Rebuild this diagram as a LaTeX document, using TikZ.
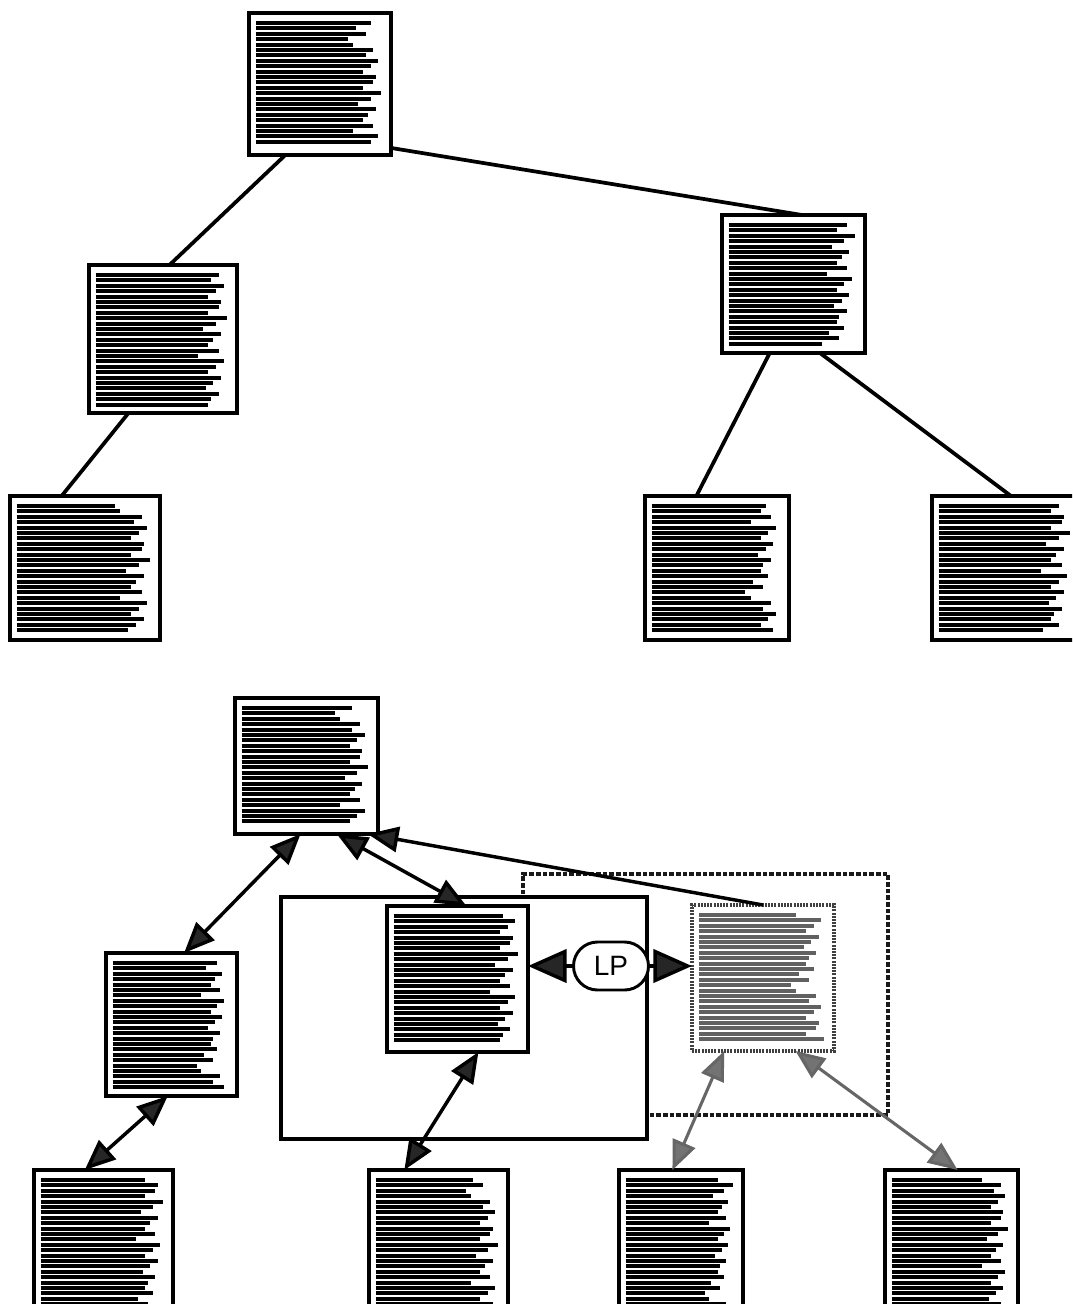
\documentclass[tikz,border=0pt]{standalone}
\usepackage{fontspec}
\newfontfamily\lpfont{Liberation Sans}
\usetikzlibrary{arrows.meta,calc,shapes.misc}

% relative lengths of the greeked text lines
\def\fracs{{.86,.92,.80,.88,.74,.78,.94,.88,.98,.92,.86,.96,.94,.86,1.0,.92,.82,.96,.90,.86,.94,.78,.98,.92,.86,.96,.90,.84,.94,.88}}

% \greeked[colour]{node}{width in px}{number of lines}{offset into the list}
\newcommand\greeked[5][black]{%
  \begin{scope}[shift={(#2.north west)}]
    \foreach \k in {1,...,#4} {
      \pgfmathsetmacro\f{\fracs[mod(\k+#5,30)]}
      \draw[#1, line width=3pt] (6.5, 4.6+5.4*\k) -- ++({(#3-17)*\f}, 0);
    }
  \end{scope}
}

\begin{document}
\begin{tikzpicture}[x=0.75pt, y=-0.75pt,
  doc/.style={rectangle, draw=black, line width=3pt, fill=white,
    inner sep=0pt, outer sep=0pt},
  greydoc/.style={rectangle, draw=black!75, line width=2.4pt,
    dash pattern=on 1.5pt off 0.9pt, fill=white, inner sep=0pt, outer sep=0pt},
  frame/.style={rectangle, draw=black, line width=2.6pt, fill=white,
    inner sep=0pt, outer sep=0pt},
  dframe/.style={rectangle, draw=black!90, line width=2.6pt,
    dash pattern=on 3.5pt off 1.5pt, inner sep=0pt, outer sep=0pt},
  edge/.style={draw=black, line width=2.8pt},
  link/.style={draw=black, line width=2.6pt,
    {Triangle[length=23pt, width=19pt, fill=black!85]}-{Triangle[length=23pt, width=19pt, fill=black!85]}},
  tolink/.style={draw=black, line width=2.6pt,
    -{Triangle[length=23pt, width=19pt, fill=black!85]}},
  lplink/.style={draw=black, line width=2.6pt,
    -{Triangle[length=29pt, width=25pt, fill=black!85]}},
  greylink/.style={draw=black!60, line width=2.3pt,
    {Triangle[length=22pt, width=18pt, fill=black!55]}-{Triangle[length=22pt, width=18pt, fill=black!55]}},
  pill/.style={rounded rectangle, draw=black, line width=2.2pt, fill=white,
    minimum width=56.25pt, minimum height=36pt, inner sep=0pt,
    font=\lpfont\fontsize{21}{25}\selectfont}
]
\useasboundingbox (0,0) rectangle (1072,1304);
\fill[white] (0,0) rectangle (1072,1304);
\clip (0,0) rectangle (1072,1304);

% ---------- upper tree ----------
\node[doc, minimum width=106.5pt,  minimum height=106.5pt] (T1) at (320,84) {};
\node[doc, minimum width=111pt,    minimum height=111pt]   (T2) at (163,339) {};
\node[doc, minimum width=107.25pt, minimum height=103.5pt] (T3) at (793.5,284) {};
\node[doc, minimum width=112.5pt,  minimum height=108pt]   (T4) at (85,568) {};
\node[doc, minimum width=108pt,    minimum height=108pt]   (T5) at (717,568) {};
\node[doc, minimum width=111pt,    minimum height=108pt]   (T6) at (1006,568) {};

\greeked{T1}{142}{23}{0}
\greeked{T2}{148}{25}{5}
\greeked{T3}{143}{23}{11}
\greeked{T4}{150}{24}{3}
\greeked{T5}{144}{24}{17}
\greeked{T6}{148}{24}{8}

\draw[edge] (T1.-116) -- (T2.85);
\draw[edge] (T1.-42)  -- (T3.83);
\draw[edge] (T2.-115) -- (T4.108);
\draw[edge] (T3.-109) -- (T5.106);
\draw[edge] (T3.-69)  -- (T6.86);

% ---------- lower tree ----------
% the two groupings: dashed one behind, solid one in front
\node[dframe, minimum width=273.75pt, minimum height=180.75pt] (F2) at (705.5,994.5) {};
\node[frame,  minimum width=274.5pt,  minimum height=181.5pt]  (F1) at (464,1018) {};

\node[doc, minimum width=107.25pt, minimum height=102pt]    (B1) at (306.5,766) {};
\node[doc, minimum width=98.25pt,  minimum height=107.25pt] (B2) at (171.5,1024.5) {};
\node[doc, minimum width=105.75pt, minimum height=109.5pt]  (B3) at (457.5,979) {};
\node[greydoc, minimum width=106.5pt, minimum height=109.5pt] (B4) at (763,978) {};
\node[doc, minimum width=104.25pt, minimum height=105pt] (B5) at (103.5,1240) {};
\node[doc, minimum width=104.25pt, minimum height=105pt] (B6) at (438.5,1240) {};
\node[doc, minimum width=93pt,     minimum height=105pt] (B7) at (681,1240) {};
\node[doc, minimum width=99.75pt,  minimum height=105pt] (B8) at (951.5,1240) {};

\greeked{B1}{143}{22}{2}
\greeked{B2}{131}{24}{14}
\greeked{B3}{141}{24}{6}
\greeked[black!62]{B4}{142}{24}{20}
\greeked{B5}{139}{24}{9}
\greeked{B6}{139}{24}{1}
\greeked{B7}{124}{24}{12}
\greeked{B8}{133}{24}{4}

\node[pill] (LP) at (611,966) {LP};

\draw[link]   (B1.-95)  -- (B2.80);
\draw[link]   (B1.-66)  -- (B3.83);
\draw[tolink] (B4.90)   -- (B1.-48);
\draw[lplink] (LP.west) -- (LP.west -| B3.east);
\draw[lplink] (LP.east) -- (LP.east -| B4.west);
\draw[link]   (B2.-93)  -- (B5.105);
\draw[link]   (B3.-74)  -- (B6.116);
\draw[greylink] (B4.-118) -- (B7.97);
\draw[greylink] (B4.-66)  -- (B8.85);
\end{tikzpicture}
\end{document}
